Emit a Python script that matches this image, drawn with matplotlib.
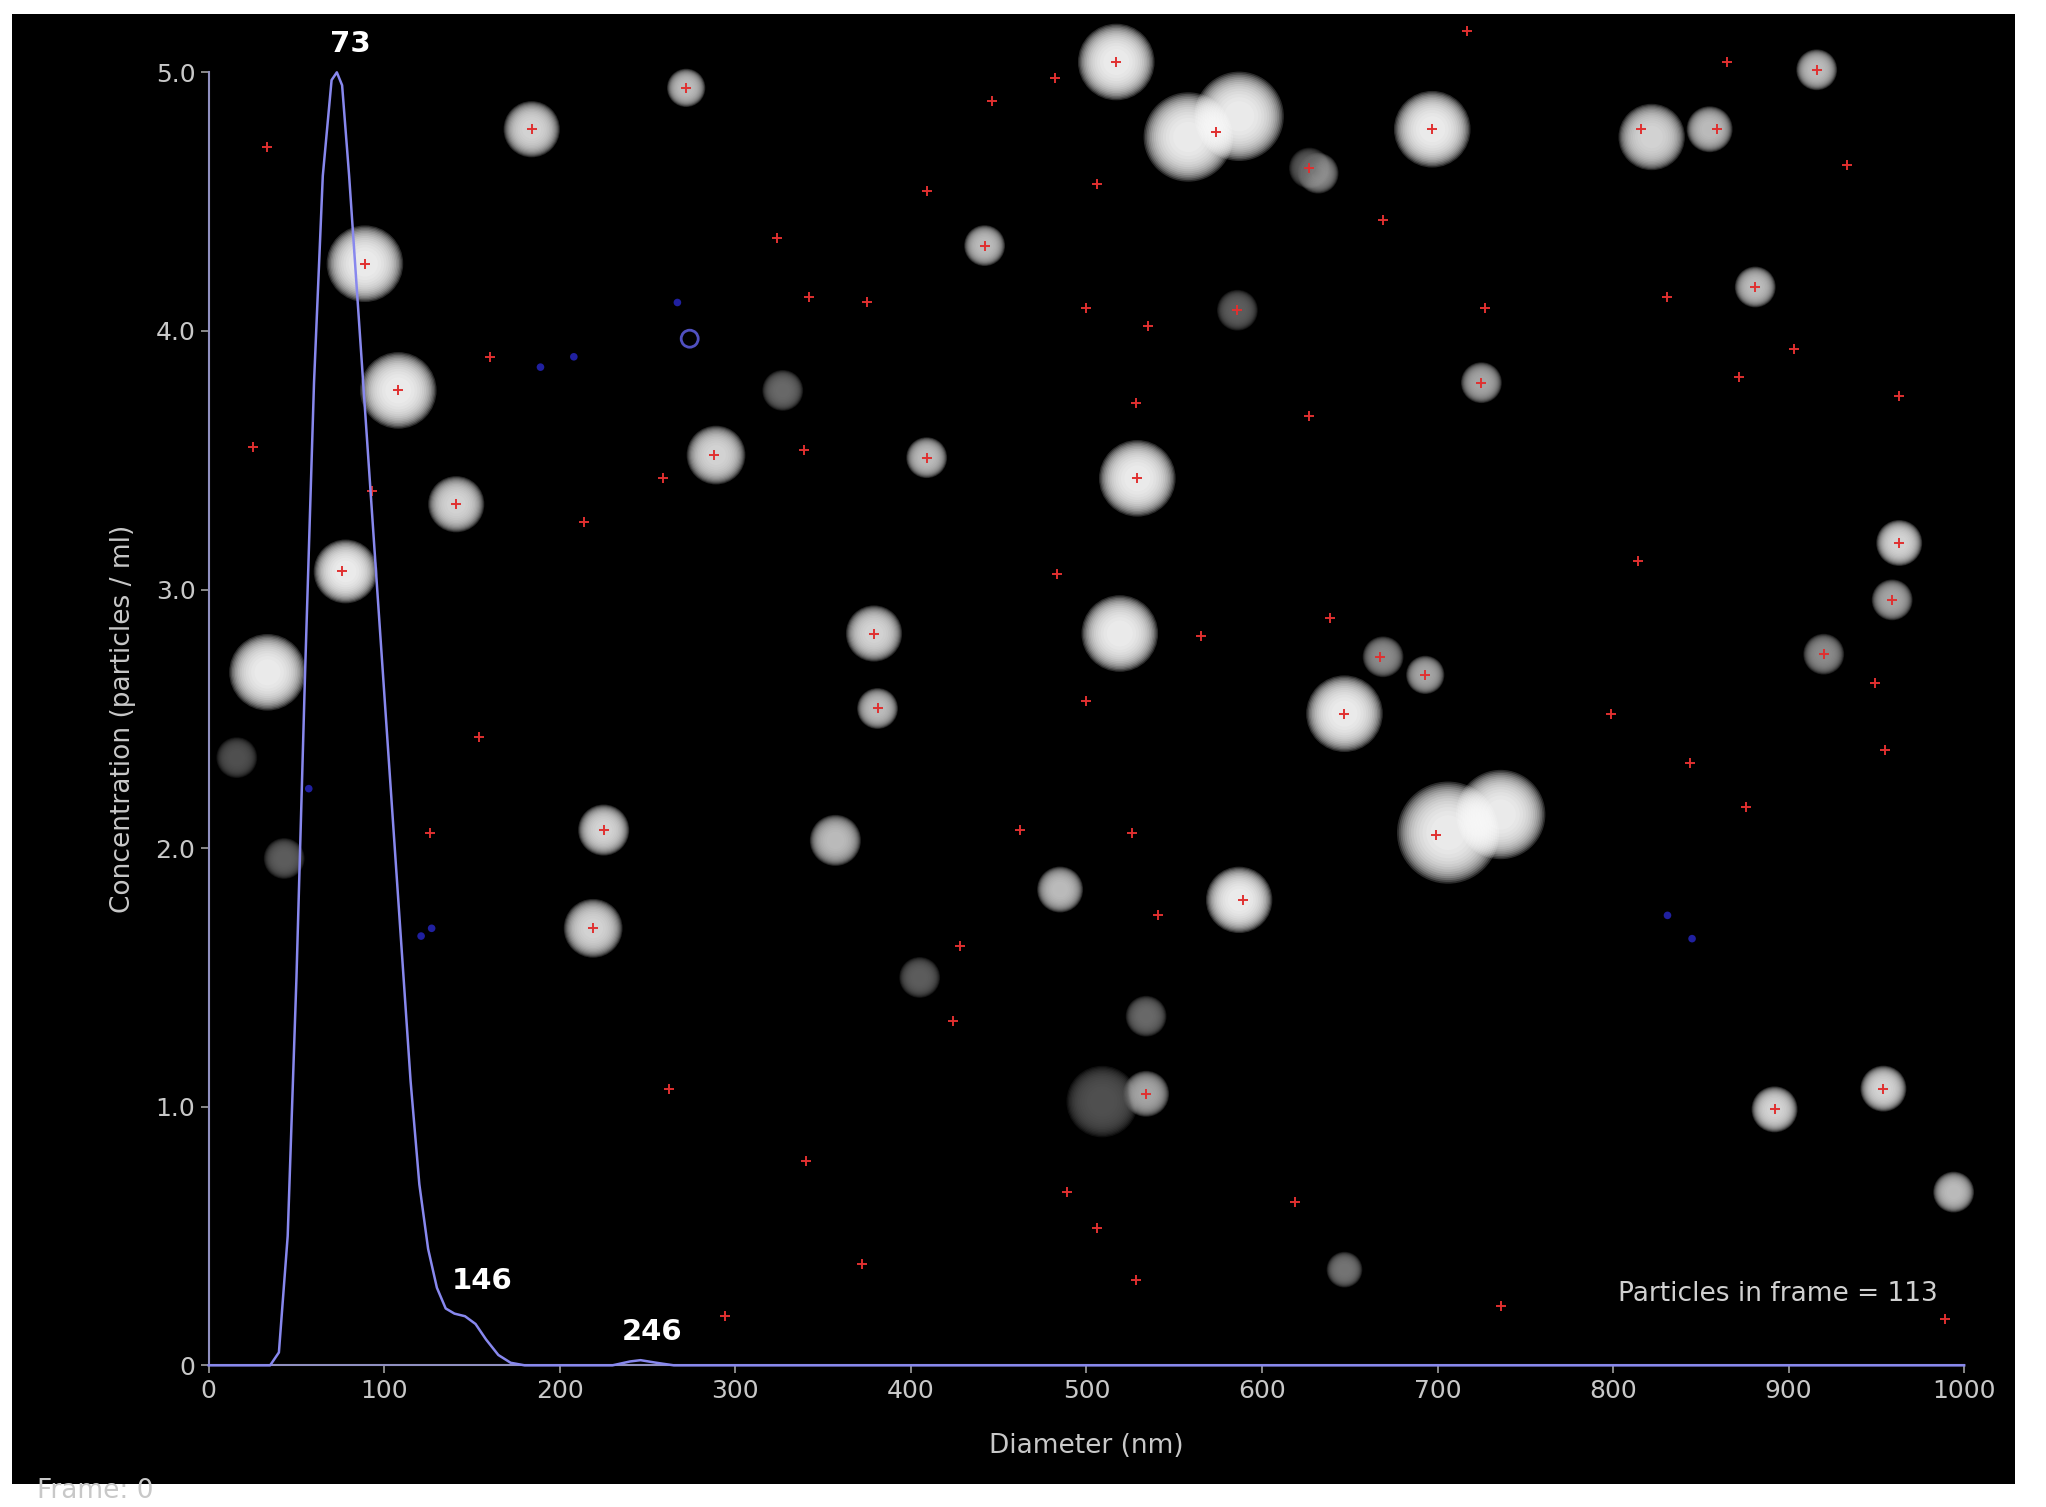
import matplotlib
matplotlib.use("Agg")
import matplotlib.pyplot as plt
from matplotlib.patches import Rectangle

# Size distribution curve
diam = [0, 35, 40, 45, 50, 55, 60, 65, 70, 73, 76, 80, 85, 90, 95, 100, 105, 110, 115, 120, 125, 130,
        135, 140, 146, 152, 158, 165, 172, 180, 230, 240, 246, 255, 265, 1000]
conc = [0, 0, 0.05, 0.5, 1.5, 2.7, 3.8, 4.6, 4.97, 5.0, 4.95, 4.6, 4.1, 3.6, 3.1, 2.6, 2.1, 1.6, 1.1, 0.7,
        0.45, 0.3, 0.22, 0.2, 0.19, 0.16, 0.1, 0.04, 0.01, 0, 0, 0.015, 0.02, 0.01, 0, 0]
peak_labels = ["73", "146", "246"]
peak_x = [73, 146, 246]
peak_y = [5.0, 0.19, 0.02]

# Particle image (blobs) in axis coordinates
blob_x = [33.5, 89, 108, 78, 141, 184, 225, 219, 272, 289, 379, 381, 409, 442, 517, 558, 587, 632, 697, 822,
          855, 881, 916, 725, 529, 519, 647, 706, 736, 587, 485, 534, 509, 693, 669, 954, 892, 994, 963, 959,
          920, 647, 627, 586, 43, 16, 357, 405, 327, 534]
blob_y = [2.68, 4.26, 3.77, 3.07, 3.33, 4.78, 2.07, 1.69, 4.94, 3.52, 2.83, 2.54, 3.51, 4.33, 5.04, 4.75,
          4.83, 4.61, 4.78, 4.75, 4.78, 4.17, 5.01, 3.80, 3.43, 2.83, 2.52, 2.06, 2.13, 1.80, 1.84, 1.05,
          1.02, 2.67, 2.74, 1.07, 0.99, 0.67, 3.18, 2.96, 2.75, 0.37, 4.63, 4.08, 1.96, 2.35, 2.03, 1.50,
          3.77, 1.35]
blob_size = [3, 3, 3, 2.5, 2.2, 2.2, 2, 2.3, 1.5, 2.3, 2.2, 1.6, 1.6, 1.6, 3, 3.5, 3.5, 1.6, 3, 2.6, 1.8,
             1.6, 1.6, 1.6, 3, 3, 3, 4, 3.5, 2.6, 1.8, 1.8, 2.8, 1.5, 1.6, 1.8, 1.8, 1.6, 1.8, 1.6, 1.6, 1.4,
             1.6, 1.6, 1.6, 1.6, 2.0, 1.6, 1.6, 1.6]
blob_bright = [1, 1, 1, 1, 0.9, 0.9, 0.9, 0.9, 0.8, 0.9, 0.9, 0.8, 0.8, 0.8, 1, 1, 1, 0.6, 1, 0.9, 0.8,
               0.8, 0.8, 0.7, 1, 1, 1, 1, 1, 1, 0.8, 0.7, 0.35, 0.7, 0.6, 0.9, 0.9, 0.8, 0.9, 0.7, 0.6,
               0.5, 0.4, 0.4, 0.4, 0.35, 0.8, 0.4, 0.45, 0.45]

cross_x = [33, 25, 76, 89, 108, 141, 160, 154, 126, 214, 184, 225, 219, 259, 262, 272, 288, 294, 324, 342,
           339, 340, 375, 372, 379, 381, 409, 409, 428, 424, 442, 446, 462, 482, 483, 489, 500, 506, 500, 506,
           517, 528, 529, 526, 528, 535, 534, 541, 565, 574, 586, 589, 619, 627, 627, 639, 647, 669, 667, 693,
           697, 699, 717, 725, 727, 736, 799, 814, 816, 831, 844, 859, 865, 876, 881, 872, 903, 916, 920, 933,
           949, 955, 959, 963, 954, 963, 892, 989, 93]
cross_y = [4.71, 3.55, 3.07, 4.26, 3.77, 3.33, 3.90, 2.43, 2.06, 3.26, 4.78, 2.07, 1.69, 3.43, 1.07, 4.94,
           3.52, 0.19, 4.36, 4.13, 3.54, 0.79, 4.11, 0.39, 2.83, 2.54, 3.51, 4.54, 1.62, 1.33, 4.33, 4.89,
           2.07, 4.98, 3.06, 0.67, 4.09, 4.57, 2.57, 0.53, 5.04, 3.72, 3.43, 2.06, 0.33, 4.02, 1.05, 1.74,
           2.82, 4.77, 4.08, 1.80, 0.63, 4.63, 3.67, 2.89, 2.52, 4.43, 2.74, 2.67, 4.78, 2.05, 5.16, 3.80,
           4.09, 0.23, 2.52, 3.11, 4.78, 4.13, 2.33, 4.78, 5.04, 2.16, 4.17, 3.82, 3.93, 5.01, 2.75, 4.64,
           2.64, 2.38, 2.96, 3.18, 1.07, 3.75, 0.99, 0.18, 3.38]

blue_x = [189, 208, 267, 121, 127, 831, 845, 57]
blue_y = [3.86, 3.90, 4.11, 1.66, 1.69, 1.74, 1.65, 2.23]

x_ticks = [0, 100, 200, 300, 400, 500, 600, 700, 800, 900, 1000]
y_ticks = [0, 1, 2, 3, 4, 5]
y_tick_labels = ["0", "1.0", "2.0", "3.0", "4.0", "5.0"]

fig = plt.figure(figsize=(20.46, 15.07), dpi=100)
fig.patch.set_facecolor("white")
fig.add_artist(Rectangle((0.006, 0.015), 0.979, 0.976, transform=fig.transFigure,
                         facecolor="black", edgecolor="none", zorder=0))

ax = fig.add_axes([0.102, 0.094, 0.858, 0.858])
ax.set_facecolor("black")
ax.set_xlim(0, 1000)
ax.set_ylim(0, 5.0)

# blobs: soft glow via many translucent layers
n_layers = 14
for i in range(n_layers):
    mult = 2.6 - 2.3 * i / (n_layers - 1)
    ax.scatter(blob_x, blob_y, s=[b * b * 130 * mult for b in blob_size],
               color=[(g, g, g) for g in blob_bright], alpha=0.17,
               edgecolors="none", clip_on=False, zorder=2)

ax.scatter(cross_x, cross_y, marker="+", s=50, color="#e03030", linewidths=1.4, clip_on=False, zorder=3)
ax.scatter(blue_x, blue_y, s=30, color="#2020a0", edgecolors="none", clip_on=False, zorder=3)
ax.scatter([274], [3.97], s=150, facecolors="none", edgecolors="#5050c0", linewidths=2, zorder=3)

ax.plot(diam, conc, color="#8888ee", lw=1.8, zorder=4, clip_on=False)
offsets = [(10, 10), (12, 15), (8, 10)]
for t, x, y, off in zip(peak_labels, peak_x, peak_y, offsets):
    ax.annotate(t, (x, y), xytext=off, textcoords="offset points", ha="center", va="bottom",
                color="white", fontsize=21, fontweight="bold", zorder=5)

ax.set_xticks(x_ticks)
ax.set_yticks(y_ticks)
ax.set_yticklabels(y_tick_labels)
ax.tick_params(colors="#a0a0a0", labelsize=18, length=6, width=1.2, labelcolor="#c8c8c8")
for s in ["top", "right"]:
    ax.spines[s].set_visible(False)
for s in ["left", "bottom"]:
    ax.spines[s].set_color("#9090c0")
    ax.spines[s].set_linewidth(1.5)
ax.set_xlabel("Diameter (nm)", color="#c8c8c8", fontsize=19, labelpad=22)
ax.set_ylabel("Concentration (particles / ml)", color="#c8c8c8", fontsize=19, labelpad=14)

ax.text(0.985, 0.055, "Particles in frame = 113", transform=ax.transAxes, ha="right", va="center",
        color="#d0d0d0", fontsize=19, zorder=5)
fig.text(0.018, 0.002, "Frame: 0", color="#c8c8c8", fontsize=19, va="bottom")

fig.savefig("out.png", dpi=100, facecolor="white")
